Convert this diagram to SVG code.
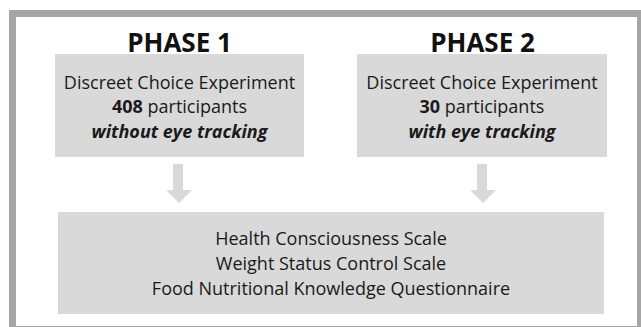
<svg xmlns="http://www.w3.org/2000/svg" width="641" height="327" viewBox="0 0 641 327">
<style>
.box{fill:#d9d9d9}
.t{font-family:"Open Sans","Liberation Sans",sans-serif;font-size:18px;fill:#1a1a1a;text-anchor:middle}
.h{font-family:"Open Sans","Liberation Sans",sans-serif;font-size:26px;font-weight:bold;fill:#111;text-anchor:middle}
.b{font-weight:bold}
.bi{font-weight:bold;font-style:italic}
.arr{fill:#d9d9d9}
</style>
<rect x="0" y="0" width="641" height="327" fill="#ffffff"/>
<g id="frame">
<rect x="9" y="10" width="632" height="317" fill="#a6a6a6"/>
<rect x="16" y="17" width="621" height="309" fill="#ffffff"/>
</g>
<g id="phase1">
<text class="h" x="179.5" y="52">PHASE 1</text>
<rect class="box" x="55" y="54" width="249" height="103"/>
<text class="t" x="179.5" y="88.5">Discreet Choice Experiment</text>
<text class="t" x="179.5" y="113"><tspan class="b">408</tspan> participants</text>
<text class="t bi" x="179.5" y="137.5">without eye tracking</text>
</g>
<g id="phase2">
<text class="h" x="482.5" y="52">PHASE 2</text>
<rect class="box" x="357" y="54" width="250" height="103"/>
<text class="t" x="482" y="88.5">Discreet Choice Experiment</text>
<text class="t" x="482" y="113"><tspan class="b">30</tspan> participants</text>
<text class="t bi" x="482" y="137.5">with eye tracking</text>
</g>
<g id="connectors">
<path class="arr" d="M173 164 H183 V190 H192 L179 203 L166 190 H173 Z"/>
<path class="arr" d="M477 164 H487 V190 H496 L483 203 L470 190 H477 Z"/>
</g>
<g id="scales">
<rect class="box" x="58" y="212" width="546" height="102"/>
<text class="t" x="331" y="245">Health Consciousness Scale</text>
<text class="t" x="331" y="270">Weight Status Control Scale</text>
<text class="t" x="331" y="295">Food Nutritional Knowledge Questionnaire</text>
</g>
</svg>
